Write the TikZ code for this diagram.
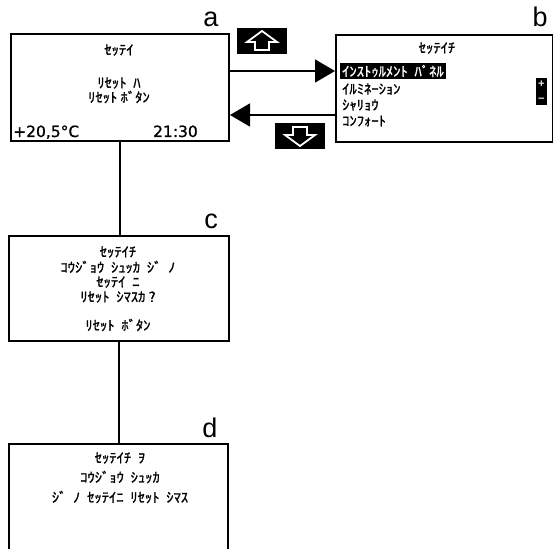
\documentclass[tikz,border=0pt]{standalone}
\usepackage{fontspec}
\newfontfamily\jp[FakeBold=1.4,FakeStretch=1.08]{Noto Sans CJK JP}
\newfontfamily\dv[FakeBold=0.8]{DejaVu Sans}
\newfontfamily\dvb{DejaVu Sans Bold}
\newfontfamily\lab{Liberation Sans}
\usetikzlibrary{arrows.meta}
\newcommand\sk{\hspace{0.5em}}
\begin{document}
\begin{tikzpicture}[x=1pt,y=-1pt,
  box/.style={draw,line width=2pt,inner sep=0pt,anchor=north west},
  jt/.style={font=\jp\fontsize{13.5}{15}\selectfont,inner sep=0pt},
  lbl/.style={font=\lab\fontsize{27}{30}\selectfont,inner sep=0pt,anchor=base},
  num/.style={font=\dv\fontsize{15.5}{17}\selectfont,inner sep=0pt,anchor=base},
  key/.style={fill=black,inner sep=0pt,minimum width=50pt,minimum height=26pt},
  keyarrow/.style={draw=white,fill=black,line width=1.8pt,line join=miter},
  conn/.style={line width=2pt},
  flow/.style={line width=1.5pt,-{Triangle[length=20pt,width=23pt]}}]
\path[use as bounding box,clip] (0,0) rectangle (553,548);
% boxes
\node[box,minimum width=218pt,minimum height=107pt] (a) at (10,33) {};
\node[box,minimum width=217pt,minimum height=107pt] (b) at (335,34) {};
\node[box,minimum width=220pt,minimum height=105pt] (c) at (8,235) {};
\node[box,minimum width=219pt,minimum height=130pt] (d) at (8,443) {};
% labels
\node[lbl] (la) at (211,27) {a};
\node[lbl] (lb) at (540,27) {b};
\node[lbl] (lc) at (211,228) {c};
\node[lbl] (ld) at (210,437) {d};
% box a text
\node[jt] (a1) at (119,50) {ｾｯﾃｲ};
\node[jt] (a2) at (119,83) {ﾘｾｯﾄ\sk ﾊ};
\node[jt] (a3) at (119,97) {ﾘｾｯﾄ ﾎﾞﾀﾝ};
\node[num,anchor=base west] (temp) at (13,137) {+20,5°C};
\node[num,anchor=base east] (time) at (198,137) {21:30};
% box b text
\node[jt] (b1) at (437,48) {ｾｯﾃｲﾁ};
\node[jt,anchor=west,fill=black,text=white,inner xsep=2pt,inner ysep=2pt] (hl) at (340,71) {ｲﾝｽﾄｩﾙﾒﾝﾄ\sk ﾊﾟﾈﾙ};
\node[jt,anchor=west] (b3) at (342,89) {ｲﾙﾐﾈｰｼｮﾝ};
\node[jt,anchor=west] (b4) at (342,105) {ｼｬﾘｮｳ};
\node[jt,anchor=west] (b5) at (342,121) {ｺﾝﾌｫｰﾄ};
\node[fill=black,minimum width=11pt,minimum height=27pt,inner sep=0pt] (pm) at (541.5,91.5) {};
\node[font=\dvb\fontsize{9}{10}\selectfont,text=white,inner sep=0pt] (plus) at (541.5,84) {+};
\node[font=\dvb\fontsize{9}{10}\selectfont,text=white,inner sep=0pt] (minus) at (541.5,100) {−};
% keys
\node[key] (up) at (262,41) {};
\draw[keyarrow,shift={(up.center)}] (0,-10) -- (15,1) -- (7,1) -- (7,9) -- (-7,9) -- (-7,1) -- (-15,1) -- cycle;
\node[key] (down) at (300,136) {};
\draw[keyarrow,shift={(down.center)}] (0,10) -- (15,-1) -- (7,-1) -- (7,-9) -- (-7,-9) -- (-7,-1) -- (-15,-1) -- cycle;
% flow arrows
\coordinate (ret) at (300,115);
\draw[flow] (a.east |- hl) -- (b.west |- hl);
\draw[flow] (b.west |- ret) -- (a.east |- ret);
% box c text
\node[jt] (c1) at (118,252) {ｾｯﾃｲﾁ};
\node[jt] (c2) at (118,267) {ｺｳｼﾞｮｳ\sk ｼｭｯｶ\sk ｼﾞ\sk ﾉ};
\node[jt] (c3) at (118,282) {ｾｯﾃｲ\sk ﾆ};
\node[jt] (c4) at (118,297) {ﾘｾｯﾄ\sk ｼﾏｽｶ ?};
\node[jt] (c5) at (118,325) {ﾘｾｯﾄ\sk ﾎﾞﾀﾝ};
% box d text
\node[jt] (d1) at (120,458) {ｾｯﾃｲﾁ\sk ｦ};
\node[jt] (d2) at (120,477) {ｺｳｼﾞｮｳ\sk ｼｭｯｶ};
\node[jt] (d3) at (120,497) {ｼﾞ\sk ﾉ\sk ｾｯﾃｲﾆ\sk ﾘｾｯﾄ\sk ｼﾏｽ};
% connectors
\draw[conn] (a.south) -- (a.south |- c.north);
\draw[conn] (c.south) -- (c.south |- d.north);
\end{tikzpicture}
\end{document}
